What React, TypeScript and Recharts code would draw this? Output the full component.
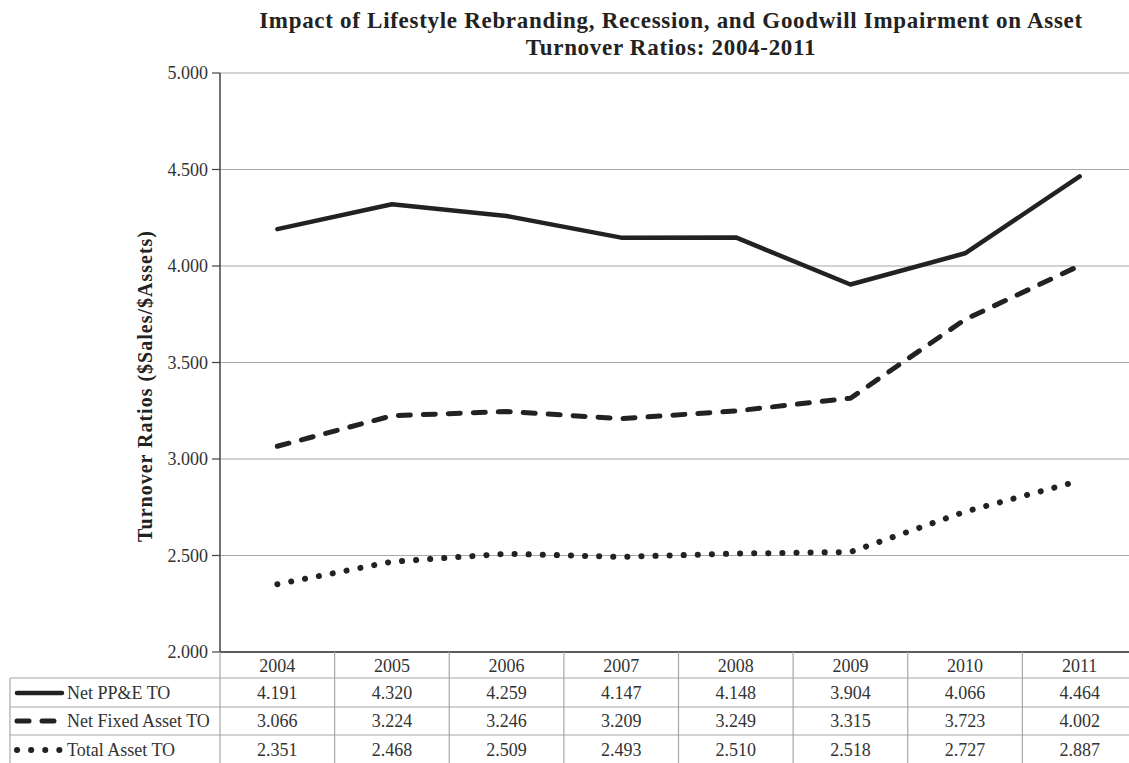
import React from 'react';
import { LineChart, Line, XAxis, YAxis, CartesianGrid, Customized } from 'recharts';

const YEARS = ['2004', '2005', '2006', '2007', '2008', '2009', '2010', '2011'];
const NET_PPE = [4.191, 4.32, 4.259, 4.147, 4.148, 3.904, 4.066, 4.464];
const NET_FIXED = [3.066, 3.224, 3.246, 3.209, 3.249, 3.315, 3.723, 4.002];
const TOTAL_ASSET = [2.351, 2.468, 2.509, 2.493, 2.51, 2.518, 2.727, 2.887];
const Y_TICKS = [2, 2.5, 3, 3.5, 4, 4.5, 5];
const SERIES_NAMES = ['Net PP&E TO', 'Net Fixed Asset TO', 'Total Asset TO'];
const TITLE_LINES = [
  'Impact of Lifestyle Rebranding, Recession, and Goodwill Impairment on Asset',
  'Turnover Ratios: 2004-2011',
];
const Y_LABEL = 'Turnover Ratios ($Sales/$Assets)';

const data = YEARS.map((year, i) => ({
  year,
  ppe: NET_PPE[i],
  fixed: NET_FIXED[i],
  total: TOTAL_ASSET[i],
}));
const SERIES_VALUES = [NET_PPE, NET_FIXED, TOTAL_ASSET];

const W = 1140;
const H = 763;
const M_TOP = 73;
const M_RIGHT = 3;
const Y_AXIS_W = 220;
const X_AXIS_H = 111;
const PLOT_LEFT = Y_AXIS_W;
const PLOT_RIGHT = W - M_RIGHT;
const AXIS_Y = H - X_AXIS_H;
const STEP = (PLOT_RIGHT - PLOT_LEFT) / YEARS.length;
const ROW_LINES = [678, 707, 735];
const ROW_CENTERS = [666, 693, 721, 750];
const LEGEND_LEFT = 10;

const FONT = '"Liberation Serif", "Times New Roman", serif';
const INK = '#222222';
const TEXT = '#333333';
const GRID = '#a8a8a8';
const STYLES = [
  { dash: undefined as string | undefined, width: 4.5 },
  { dash: '12 13', width: 5 },
  { dash: '0.1 14', width: 6 },
];

function YearTick(props: any) {
  const { x, payload } = props;
  const i = payload.index;
  const isLast = i === YEARS.length - 1;
  return (
    <g>
      <line x1={x - STEP / 2} x2={x - STEP / 2} y1={AXIS_Y} y2={H} stroke={GRID} strokeWidth={1.2} />
      {isLast && (
        <line x1={x + STEP / 2} x2={x + STEP / 2} y1={AXIS_Y} y2={H} stroke={GRID} strokeWidth={1.2} />
      )}
      <text x={x} y={ROW_CENTERS[0]} textAnchor="middle" dominantBaseline="central" fontFamily={FONT} fontSize={18} fill={TEXT}>
        {payload.value}
      </text>
      {SERIES_VALUES.map((vals, r) => (
        <text key={r} x={x} y={ROW_CENTERS[r + 1]} textAnchor="middle" dominantBaseline="central" fontFamily={FONT} fontSize={18} fill={TEXT}>
          {vals[i].toFixed(3)}
        </text>
      ))}
    </g>
  );
}

function Decorations() {
  return (
    <g>
      {TITLE_LINES.map((t, i) => (
        <text key={i} x={671} y={28 + i * 27} textAnchor="middle" fontFamily={FONT} fontSize={23} letterSpacing={0.7} fontWeight="bold" fill={INK}>
          {t}
        </text>
      ))}
      <text
        x={145}
        y={386}
        transform="rotate(-90 145 386)"
        textAnchor="middle"
        dominantBaseline="central"
        fontFamily={FONT}
        fontSize={20}
        letterSpacing={1}
        fontWeight="bold"
        fill={INK}
      >
        {Y_LABEL}
      </text>
      {ROW_LINES.map((y) => (
        <line key={y} x1={LEGEND_LEFT} x2={PLOT_RIGHT} y1={y} y2={y} stroke={GRID} strokeWidth={1.2} />
      ))}
      <line x1={LEGEND_LEFT} x2={LEGEND_LEFT} y1={ROW_LINES[0]} y2={H} stroke={GRID} strokeWidth={1.2} />
      {SERIES_NAMES.map((name, r) => {
        const cy = ROW_CENTERS[r + 1];
        const st = STYLES[r];
        return (
          <g key={name}>
            <line
              x1={17}
              x2={62}
              y1={cy}
              y2={cy}
              stroke={INK}
              strokeWidth={st.width}
              strokeDasharray={st.dash}
              strokeLinecap="round"
            />
            <text x={67} y={cy} dominantBaseline="central" fontFamily={FONT} fontSize={18} fill={TEXT}>
              {name}
            </text>
          </g>
        );
      })}
    </g>
  );
}

export default function App() {
  return (
    <div style={{ position: 'absolute', left: 0, top: 0, width: 1129, height: 763, overflow: 'hidden', background: '#fff' }}>
      <LineChart width={W} height={H} data={data} margin={{ top: M_TOP, right: M_RIGHT, bottom: 0, left: 0 }}>
        <CartesianGrid horizontal vertical={false} stroke={GRID} strokeWidth={1.2} />
        <XAxis
          dataKey="year"
          scale="point"
          padding={{ left: STEP / 2, right: STEP / 2 }}
          height={X_AXIS_H}
          tickLine={false}
          axisLine={{ stroke: '#333', strokeWidth: 1.5 }}
          tick={<YearTick />}
          interval={0}
        />
        <YAxis
          width={Y_AXIS_W}
          domain={[2, 5]}
          ticks={Y_TICKS}
          tickFormatter={(v: number) => v.toFixed(3)}
          tickSize={8}
          tickMargin={4}
          axisLine={{ stroke: '#444', strokeWidth: 1.5 }}
          tickLine={{ stroke: '#444', strokeWidth: 1.2 }}
          tick={{ fontFamily: FONT, fontSize: 18, fill: TEXT }}
          allowDataOverflow
        />
        <Line dataKey="ppe" stroke={INK} strokeWidth={STYLES[0].width} dot={false} strokeLinecap="round" strokeLinejoin="round" isAnimationActive={false} />
        <Line dataKey="fixed" stroke={INK} strokeWidth={STYLES[1].width} strokeDasharray={STYLES[1].dash} dot={false} strokeLinecap="round" strokeLinejoin="round" isAnimationActive={false} />
        <Line dataKey="total" stroke={INK} strokeWidth={STYLES[2].width} strokeDasharray={STYLES[2].dash} dot={false} strokeLinecap="round" strokeLinejoin="round" isAnimationActive={false} />
        <Customized component={<Decorations />} />
      </LineChart>
    </div>
  );
}
